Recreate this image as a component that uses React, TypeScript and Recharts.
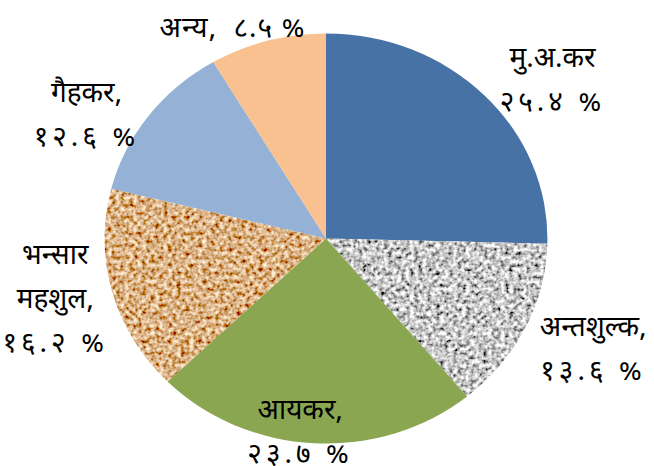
import React from "react";
import { PieChart, Pie, Cell, Sector } from "recharts";

// revenue share by source (%), clockwise from 12 o'clock
const categories = ["मु.अ.कर", "अन्तशुल्क", "आयकर", "भन्सार महशुल", "गैहकर", "अन्य"];
const shares = [25.4, 13.6, 23.7, 16.2, 12.6, 8.5];

const FILLS = ["#4672a6", "#a8a8a8", "#8aa650", "#c48c58", "#95b2d6", "#f9c18f"];
const TEXTURE = ["", "url(#fgranite)", "", "url(#fcork)", "", ""];

// label layout (not data)
const LABEL_LINES = [["मु.अ.कर"], ["अन्तशुल्क,"], ["आयकर,"], ["भन्सार", "महशुल,"], ["गैहकर,"], []];
const NUDGE: [number, number][] = [
  [68, -13],
  [68, 23],
  [-14, -9],
  [-57, 9],
  [-62, 1],
  [-35, -11],
];
const SX = 1.08; // the pie is drawn a bit wider than tall
const LH = 44;
const RAD = Math.PI / 180;

const data = categories.map((name, i) => ({ name, value: shares[i] }));

const toDeva = (s: string) => s.replace(/[0-9]/g, (d) => "०१२३४५६७८९"[+d]);

function StretchedSector(props: any) {
  const { cx, cy, index } = props;
  return (
    <g transform={`translate(${cx} ${cy}) scale(${SX} 1) translate(${-cx} ${-cy})`}>
      <Sector {...props} filter={TEXTURE[index] || undefined} />
    </g>
  );
}

function renderLabel(p: any) {
  const { cx, cy, midAngle, outerRadius, index, value } = p;
  const a = -midAngle * RAD;
  const x = cx + outerRadius * SX * Math.cos(a) + NUDGE[index][0];
  const y = cy + outerRadius * Math.sin(a) + NUDGE[index][1];
  const pct = toDeva(value.toFixed(1)) + " %";
  const single = LABEL_LINES[index].length === 0;
  const lines = single ? [categories[index] + ",  " + pct] : [...LABEL_LINES[index], pct];
  const top = y - ((lines.length - 1) * LH) / 2;
  return (
    <text
      key={`lbl-${index}`}
      x={x}
      y={top}
      textAnchor="middle"
      dominantBaseline="central"
      fill="#000"
      fontSize={28}
      style={{ whiteSpace: "pre" }}
    >
      {lines.map((l, i) => (
        <tspan
          key={i}
          x={x}
          y={top + i * LH}
          letterSpacing={!single && i === lines.length - 1 ? 4 : single ? 1 : 0}
        >
          {l}
        </tspan>
      ))}
    </text>
  );
}

export default function App() {
  return (
    <div
      style={{
        position: "absolute",
        left: 0,
        top: 0,
        width: 654,
        height: 466,
        background: "#fff",
        fontFamily: "'Noto Sans Devanagari', 'Noto Serif Devanagari', 'Noto Sans', sans-serif",
      }}
    >
      <svg width={0} height={0} style={{ position: "absolute" }}>
        <defs>
          <filter id="fgranite" x="0" y="0" width="1" height="1">
            <feTurbulence type="fractalNoise" baseFrequency="0.25" numOctaves={2} seed={4} result="n" />
            <feColorMatrix
              in="n"
              type="matrix"
              values="2 0 0 0 -0.42  2 0 0 0 -0.42  2 0 0 0 -0.42  0 0 0 0 1"
              result="g"
            />
            <feComposite in="g" in2="SourceGraphic" operator="in" />
          </filter>
          <filter id="fcork" x="0" y="0" width="1" height="1">
            <feTurbulence type="fractalNoise" baseFrequency="0.25" numOctaves={2} seed={9} result="n" />
            <feColorMatrix
              in="n"
              type="matrix"
              values="1.2 0 0 0 0.1  1.5 0 0 0 -0.3  1.4 0 0 0 -0.45  0 0 0 0 1"
              result="b"
            />
            <feComposite in="b" in2="SourceGraphic" operator="in" />
          </filter>
        </defs>
      </svg>
      <PieChart width={654} height={466} margin={{ top: 0, right: 0, bottom: 0, left: 0 }}>
        <Pie
          data={data}
          dataKey="value"
          nameKey="name"
          cx={326}
          cy={238.5}
          outerRadius={205}
          startAngle={90}
          endAngle={-270}
          stroke="none"
          labelLine={false}
          label={renderLabel}
          shape={StretchedSector}
          isAnimationActive={false}
        >
          {data.map((d, i) => (
            <Cell key={d.name} fill={FILLS[i]} />
          ))}
        </Pie>
      </PieChart>
    </div>
  );
}
